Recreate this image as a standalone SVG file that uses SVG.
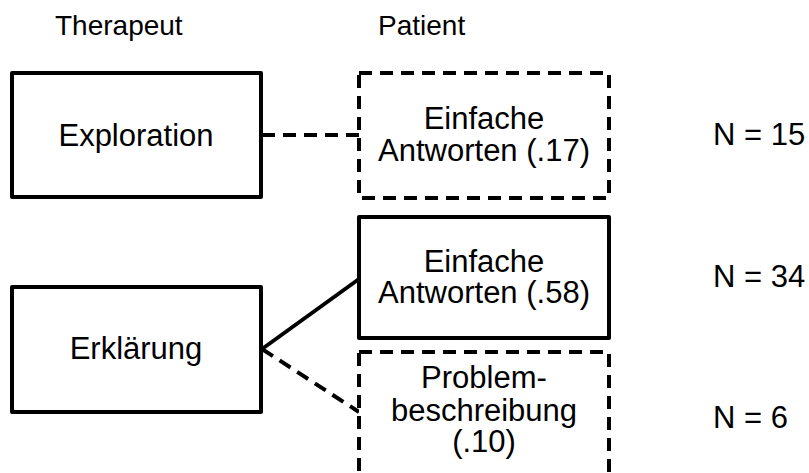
<svg xmlns="http://www.w3.org/2000/svg" width="809" height="473" viewBox="0 0 809 473">
<style>
.box{fill:#fff;stroke:#000;stroke-width:4;stroke-linejoin:round}
.dash{stroke-dasharray:13 8}
.t{font-family:"Liberation Sans",Arial,sans-serif;font-size:31px;fill:#000;text-anchor:middle}
.h{font-family:"Liberation Sans",Arial,sans-serif;font-size:28px;fill:#000}
.n{font-family:"Liberation Sans",Arial,sans-serif;font-size:31px;fill:#000}
.c{fill:none;stroke:#000;stroke-width:4}
</style>
<rect width="809" height="473" fill="#fff"/>
<g id="headers">
<text class="h" x="55" y="35">Therapeut</text>
<text class="h" x="378" y="35">Patient</text>
</g>
<g id="connectors">
<line class="c dash" x1="262" y1="135" x2="359" y2="135"/>
<line class="c" x1="262" y1="349" x2="359" y2="279"/>
<line class="c dash" x1="262" y1="349" x2="359" y2="412"/>
</g>
<g id="exploration">
<rect class="box" x="12" y="73" width="249" height="124"/>
<text class="t" x="136" y="146">Exploration</text>
</g>
<g id="erklaerung">
<rect class="box" x="12" y="287" width="249" height="125"/>
<text class="t" x="136" y="359">Erklärung</text>
</g>
<g id="einfache1">
<rect class="box dash" x="359" y="73" width="250" height="125"/>
<text class="t" x="484" y="129">Einfache</text>
<text class="t" x="484" y="161">Antworten (.17)</text>
</g>
<g id="einfache2">
<rect class="box" x="359" y="217" width="250" height="121"/>
<text class="t" x="484" y="272">Einfache</text>
<text class="t" x="484" y="303">Antworten (.58)</text>
</g>
<g id="problem">
<rect class="box dash" x="359" y="352" width="250" height="135"/>
<text class="t" x="484" y="388">Problem-</text>
<text class="t" x="484" y="421">beschreibung</text>
<text class="t" x="484" y="452">(.10)</text>
</g>
<g id="counts">
<text class="n" x="713" y="145">N = 15</text>
<text class="n" x="713" y="287">N = 34</text>
<text class="n" x="713" y="428">N = 6</text>
</g>
</svg>
